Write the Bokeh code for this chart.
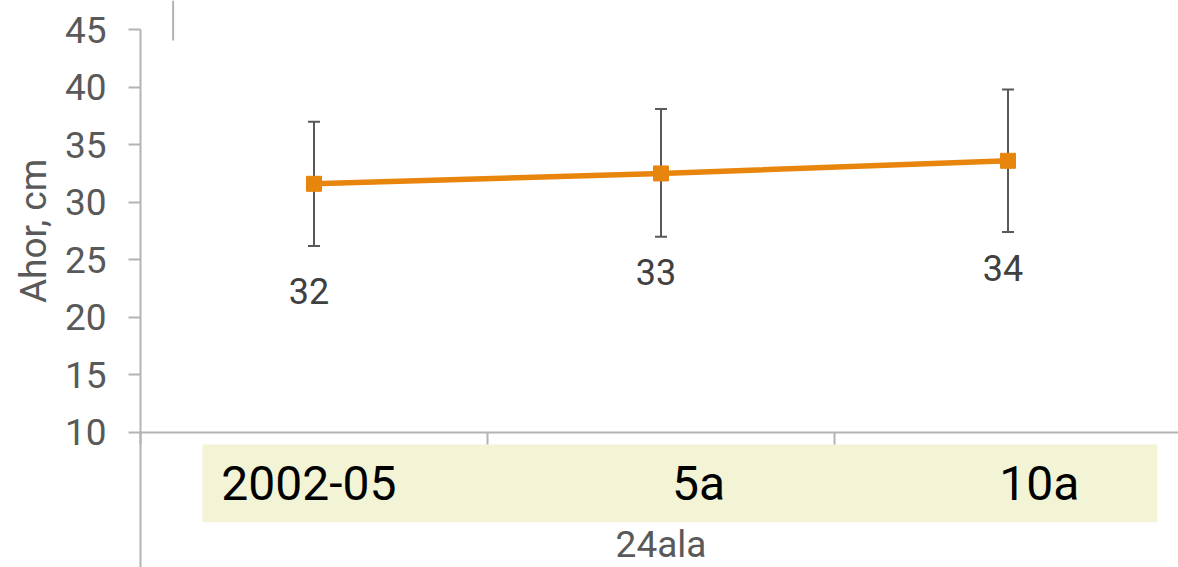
import math
from bokeh.plotting import figure
from bokeh.models import ColumnDataSource, Whisker, TeeHead, FixedTicker, Range1d, LinearAxis
from bokeh.core.properties import value
from bokeh.embed import file_html
from bokeh.resources import INLINE

# ---- data ----
categories = ["2002-05", "5a", "10a"]
cat_x = [0.5, 1.5, 2.5]
means = [31.6, 32.5, 33.6]
upper = [37.0, 38.1, 39.8]
lower = [26.2, 27.0, 27.4]
value_labels = ["32", "33", "34"]
y_ticks = [10, 15, 20, 25, 30, 35, 40, 45]
x_boundaries = [0, 1, 2, 3]
y_title = "Ahor, cm"
x_title = "24ala"

# ---- layout (kept apart from the data) ----
label_y = [22.32, 23.97, 24.32]       # value-label anchors (data units)
cat_label_x = [0.485, 1.608, 2.59]    # centres of category texts
cat_label_y = 5.54
band = dict(left=0.178, right=2.93, top=8.93, bottom=2.17)
stray_x, stray_y0 = 0.094, 44.06
ytitle_x, ytitle_y = -0.309, 27.5
xtitle_x, xtitle_y = 1.5, 0.26

PX_X = 347.0
PX_Y = 11.5
W, H = 1178, 567
LEFT = 140
Y10 = 431.7
x_start = -LEFT / PX_X
x_end = (W - LEFT) / PX_X
y_end = 10 + Y10 / PX_Y
y_start = 10 - (H - Y10) / PX_Y

AXIS = "#b3b3b3"
ORANGE = "#e8850c"
FONT = "Roboto"

p = figure(width=W, height=H, output_backend="svg", toolbar_location=None,
           x_range=Range1d(x_start, x_end), y_range=Range1d(y_start, y_end),
           x_axis_type=None, y_axis_type=None,
           min_border_left=0, min_border_right=0, min_border_top=0, min_border_bottom=0)
p.outline_line_color = None
p.background_fill_color = "white"
p.border_fill_color = "white"

# y axis drawn at x = 0
yax = LinearAxis(ticker=FixedTicker(ticks=y_ticks), bounds=(10, 45), fixed_location=0)
yax.axis_line_color = AXIS
yax.axis_line_width = 2
yax.major_tick_line_color = AXIS
yax.major_tick_line_width = 2
yax.major_tick_out = 12
yax.major_tick_in = 0
yax.minor_tick_out = 0
yax.minor_tick_in = 0
yax.major_label_standoff = 22
yax.major_label_text_font = FONT
yax.major_label_text_font_size = "37px"
yax.major_label_text_color = "#595959"
p.add_layout(yax, "left")

# x axis at y = 10, category boundaries as (unlabelled) minor ticks
xax = LinearAxis(ticker=FixedTicker(ticks=[], minor_ticks=x_boundaries), bounds=(0, 3),
                 fixed_location=10)
xax.axis_line_color = AXIS
xax.axis_line_width = 2
xax.major_tick_out = 0
xax.major_tick_in = 0
xax.minor_tick_line_color = AXIS
xax.minor_tick_line_width = 2
xax.minor_tick_out = 12
xax.minor_tick_in = 0
xax.major_label_standoff = 0
p.add_layout(xax, "below")

# axis titles
p.text(x=[ytitle_x], y=[ytitle_y], text=[y_title], angle=math.pi / 2,
       text_font=value(FONT), text_font_size="37px", text_color="#595959",
       text_align="center", text_baseline="alphabetic")
p.text(x=[xtitle_x], y=[xtitle_y], text=[x_title],
       text_font=value(FONT), text_font_size="37px", text_color="#595959",
       text_align="center", text_baseline="alphabetic")

# continuation of the y axis line below the x axis
p.segment(x0=[0], y0=[10], x1=[0], y1=[y_start], line_color=AXIS, line_width=2)
# stray line from the neighbouring panel
p.segment(x0=[stray_x], y0=[stray_y0], x1=[stray_x], y1=[y_end], line_color=AXIS, line_width=2)

# category band
p.quad(left=[band["left"]], right=[band["right"]], top=[band["top"]], bottom=[band["bottom"]],
       fill_color="#f2f4d5", line_color=None)
p.text(x=cat_label_x, y=[cat_label_y] * 3, text=categories, text_font=value(FONT),
       text_font_size="48px", text_color="#000000", text_align="center",
       text_baseline="alphabetic")

# error bars
src = ColumnDataSource(dict(x=cat_x, y=means, upper=upper, lower=lower))
wh = Whisker(source=src, base="x", upper="upper", lower="lower",
             line_color="#595959", line_width=2,
             upper_head=TeeHead(size=12, line_color="#595959", line_width=2),
             lower_head=TeeHead(size=12, line_color="#595959", line_width=2))
p.add_layout(wh)

# series
p.line("x", "y", source=src, line_color=ORANGE, line_width=5.5)
p.scatter("x", "y", source=src, marker="square", size=15, fill_color=ORANGE, line_color=ORANGE)

# value labels
p.text(x=cat_x, y=label_y, text=value_labels, x_offset=-5, text_font=value(FONT),
       text_font_size="36px", text_color="#404040", text_align="center",
       text_baseline="alphabetic")

p.xgrid.visible = False
p.ygrid.visible = False

open("out.html", "w").write(file_html(p, INLINE))
